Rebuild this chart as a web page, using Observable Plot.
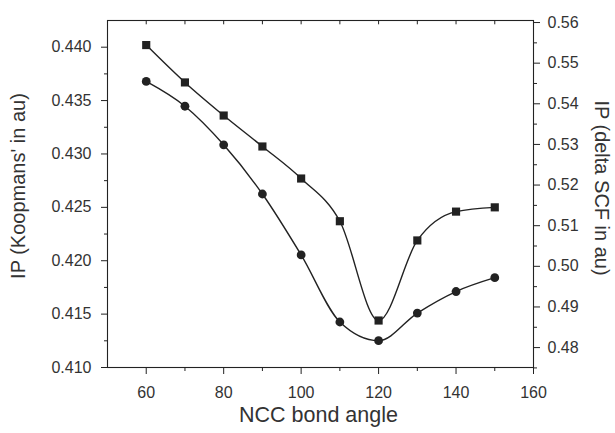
<!DOCTYPE html>
<html>
<head>
<meta charset="utf-8">
<script src="https://cdn.jsdelivr.net/npm/d3@7"></script>
<script src="https://cdn.jsdelivr.net/npm/@observablehq/plot@0.6"></script>
<style>
  html, body { margin: 0; padding: 0; background: #fff; }
  #chart svg { display: block; }
</style>
</head>
<body>
<div id="chart"></div>
<script>
// ---- data ----
const angles = [60, 70, 80, 90, 100, 110, 120, 130, 140, 150];
const koopmans = [0.4402, 0.4367, 0.4336, 0.4307, 0.4277, 0.4237, 0.4144, 0.4219, 0.4246, 0.4250];
const deltaSCF = [0.5455, 0.5394, 0.5299, 0.5178, 0.5028, 0.4863, 0.4817, 0.4885, 0.4938, 0.4972];

const xMajorTicks = [60, 80, 100, 120, 140, 160];
const xMinorTicks = [70, 90, 110, 130, 150];
const xTopTicks = [60, 70, 80, 90, 100, 110, 120, 130, 140, 150];
const leftMajorTicks = [0.410, 0.415, 0.420, 0.425, 0.430, 0.435, 0.440];
const leftMinorTicks = [0.4125, 0.4175, 0.4225, 0.4275, 0.4325, 0.4375];
const rightMajorTicks = [0.48, 0.49, 0.50, 0.51, 0.52, 0.53, 0.54, 0.55, 0.56];
const rightMinorTicks = [0.475, 0.485, 0.495, 0.505, 0.515, 0.525, 0.535, 0.545, 0.555];

const xDomain = [50, 160];
const leftDomain = [0.410, 0.4425];
const rightDomain = [0.4751, 0.5605];

const xLabel = "NCC bond angle";
const leftLabel = "IP (Koopmans' in au)";
const rightLabel = "IP (delta SCF in au)";

// map right-axis values onto the left scale
const toLeft = v => leftDomain[0] + (v - rightDomain[0]) / (rightDomain[1] - rightDomain[0]) * (leftDomain[1] - leftDomain[0]);
const fromLeft = v => rightDomain[0] + (v - leftDomain[0]) / (leftDomain[1] - leftDomain[0]) * (rightDomain[1] - rightDomain[0]);

const sq = angles.map((a, i) => ({x: a, y: koopmans[i]}));
const ci = angles.map((a, i) => ({x: a, y: toLeft(deltaSCF[i])}));

const ink = "#222";
const txt = "#333";
const font = "'Liberation Sans', Arial, sans-serif";

const chart = Plot.plot({
  width: 615,
  height: 433,
  marginLeft: 107,
  marginRight: 82,
  marginTop: 20,
  marginBottom: 66,
  style: {fontFamily: font, color: txt, background: "#fff"},
  x: {domain: xDomain},
  y: {domain: leftDomain},
  marks: [
    Plot.frame({stroke: ink, strokeWidth: 1.1}),
    // bottom axis
    Plot.axisX(xMajorTicks, {anchor: "bottom", tickSize: 7, tickPadding: 12, fontSize: 16, stroke: ink, fill: txt, label: null, tickFormat: d => String(d)}),
    Plot.axisX(xMinorTicks, {anchor: "bottom", tickSize: 4, stroke: ink, label: null, tickFormat: () => ""}),
    // top inward ticks
    Plot.tickX(xTopTicks, {x: d => d, stroke: ink, insetBottom: 342.7}),
    // left axis
    Plot.axisY(leftMajorTicks, {anchor: "left", tickSize: 6, tickPadding: 10, fontSize: 16, stroke: ink, fill: txt, label: null, tickFormat: d => d.toFixed(3)}),
    Plot.axisY(leftMinorTicks, {anchor: "left", tickSize: 3, stroke: ink, label: null, tickFormat: () => ""}),
    // right axis
    Plot.axisY(rightMajorTicks.map(toLeft), {anchor: "right", tickSize: 6, tickPadding: 8, fontSize: 16, stroke: ink, fill: txt, label: null, tickFormat: d => fromLeft(d).toFixed(2)}),
    Plot.axisY(rightMinorTicks.map(toLeft), {anchor: "right", tickSize: 3, stroke: ink, label: null, tickFormat: () => ""}),
    // series
    Plot.line(sq, {x: "x", y: "y", curve: "monotone-x", stroke: ink, strokeWidth: 1.4}),
    Plot.line(ci, {x: "x", y: "y", curve: "monotone-x", stroke: ink, strokeWidth: 1.4}),
    Plot.dot(sq, {x: "x", y: "y", symbol: "square", r: 4.6, fill: ink, stroke: "none"}),
    Plot.dot(ci, {x: "x", y: "y", symbol: "circle", r: 4.4, fill: ink, stroke: "none"}),
    // axis titles
    Plot.text([xLabel], {frameAnchor: "bottom", textAnchor: "middle", dx: -2, dy: 54, fontSize: 21.5, fill: txt}),
    Plot.text([leftLabel], {frameAnchor: "left", textAnchor: "middle", dx: -89, dy: -8, rotate: -90, fontSize: 20, fill: txt}),
    Plot.text([rightLabel], {frameAnchor: "right", textAnchor: "middle", dx: 68, dy: -6, rotate: 90, fontSize: 20, fill: txt})
  ]
});

document.getElementById("chart").appendChild(chart);
</script>
</body>
</html>
